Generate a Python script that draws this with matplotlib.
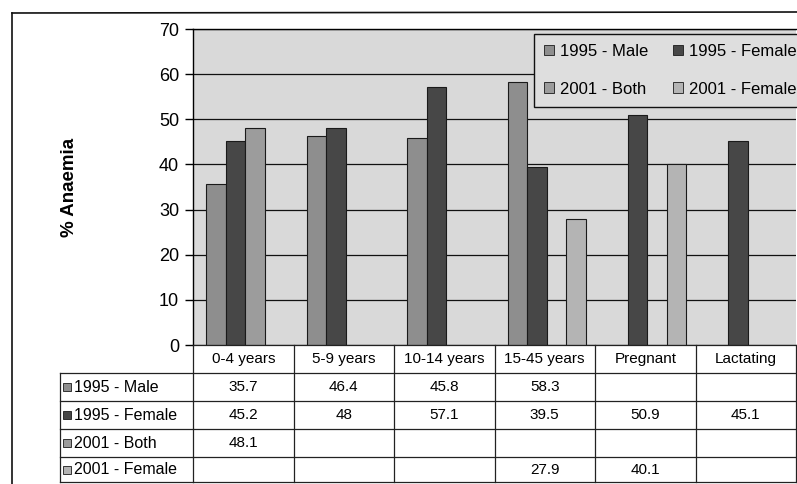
import matplotlib
matplotlib.use("Agg")
import matplotlib.pyplot as plt
from matplotlib.lines import Line2D
from matplotlib.patches import Rectangle
from matplotlib.transforms import blended_transform_factory
import numpy as np

categories = ["0-4 years", "5-9 years", "10-14 years", "15-45 years", "Pregnant", "Lactating"]
series_names = ["1995 - Male", "1995 - Female", "2001 - Both", "2001 - Female"]
male_1995 = [35.7, 46.4, 45.8, 58.3, None, None]
female_1995 = [45.2, 48, 57.1, 39.5, 50.9, 45.1]
both_2001 = [48.1, None, None, None, None, None]
female_2001 = [None, None, None, 27.9, 40.1, None]
series_values = [male_1995, female_1995, both_2001, female_2001]
y_ticks = [0, 10, 20, 30, 40, 50, 60, 70]

colors = ["#8e8e8e", "#474747", "#9c9c9c", "#b4b4b4"]
plt.rcParams['font.family'] = ['Liberation Sans', 'DejaVu Sans']

W, H = 797, 484
fig = plt.figure(figsize=(W / 100, H / 100), dpi=100)
fig.patch.set_facecolor("white")

def fy(py):
    return 1 - py / H

def fx(px):
    return px / W

ax = fig.add_axes([fx(193), fy(345), fx(796) - fx(193), fy(29) - fy(345)])
ax.set_facecolor("#d9d9d9")
ax.set_xlim(-0.5, 5.5)
ax.set_ylim(0, 70)
ax.set_yticks(y_ticks)
ax.set_yticklabels([str(t) for t in y_ticks], fontsize=13)
ax.set_xticks([])
ax.yaxis.grid(True, color="#111111", linewidth=0.9)
ax.set_axisbelow(True)
for s in ["right", "bottom"]:
    ax.spines[s].set_visible(False)
ax.spines["left"].set_linewidth(1.0)
ax.spines["top"].set_linewidth(1.0)
ax.tick_params(axis="y", length=6, width=1, pad=4)

bar_w = 0.195
x = np.arange(len(categories))
for k, (vals, c) in enumerate(zip(series_values, colors)):
    xs = [xi + (k - 1.5) * bar_w + 0.02 for xi, v in zip(x, vals) if v is not None]
    hs = [v for v in vals if v is not None]
    ax.bar(xs, hs, width=bar_w, color=c, edgecolor="#1a1a1a", linewidth=0.8, zorder=3)

# y-axis title placed at the left of the chart frame
fig.text(fx(70), fy(187), "% Anaemia", rotation=90, ha="center", va="center",
         fontsize=13.5, fontweight="bold")

# legend, filled row by row
order = [0, 2, 1, 3]
handles = [Rectangle((0, 0), 1, 1, facecolor=colors[i], edgecolor="#1a1a1a", linewidth=0.6)
           for i in order]
labels = [series_names[i] for i in order]
leg = fig.legend(handles, labels, ncol=2, loc="upper left",
                 bbox_to_anchor=(fx(534), fy(34)), borderaxespad=0, fontsize=12,
                 frameon=True, fancybox=False, edgecolor="#111111", framealpha=1,
                 handlelength=0.6, handleheight=0.6, handletextpad=0.35,
                 columnspacing=1.5, labelspacing=1.35, borderpad=0.6)
leg.get_frame().set_facecolor("#dedede")
leg.get_frame().set_linewidth(1.0)

# data table under the axis
tr = blended_transform_factory(ax.transData, fig.transFigure)
row_lines = [345, 373, 401, 429, 457, 482]
line_kw = dict(color="#222222", linewidth=0.9)
for i, py in enumerate(row_lines):
    fig.add_artist(Line2D([-0.5, 5.5], [fy(py), fy(py)], transform=tr, **line_kw))
    if i >= 1:
        fig.add_artist(Line2D([fx(60), fx(193)], [fy(py), fy(py)], **line_kw))
for b in np.arange(-0.5, 6.0, 1.0):
    fig.add_artist(Line2D([b, b], [fy(345), fy(482)], transform=tr, **line_kw))
fig.add_artist(Line2D([fx(60), fx(60)], [fy(373), fy(482)], **line_kw))

for i, cat in enumerate(categories):
    fig.text(i, fy((345 + 373) / 2), cat, transform=tr, ha="center", va="center", fontsize=11)

for r, (name, vals, c) in enumerate(zip(series_names, series_values, colors)):
    yc = fy((row_lines[r + 1] + row_lines[r + 2]) / 2)
    fig.add_artist(Rectangle((fx(63), yc - 4 / H), 8 / W, 8 / H, transform=fig.transFigure,
                             facecolor=c, edgecolor="#1a1a1a", linewidth=0.6))
    fig.text(fx(74), yc, name, ha="left", va="center", fontsize=11.5)
    for i, v in enumerate(vals):
        if v is not None:
            fig.text(i, yc, f"{v:g}", transform=tr, ha="center", va="center", fontsize=11)

# outer chart frame
fig.add_artist(Line2D([fx(12), fx(12)], [fy(13), 0], color="#111111", linewidth=1.2))
fig.add_artist(Line2D([fx(12), 1], [fy(13), fy(12)], color="#111111", linewidth=1.2))

fig.savefig("out.png", dpi=100)
